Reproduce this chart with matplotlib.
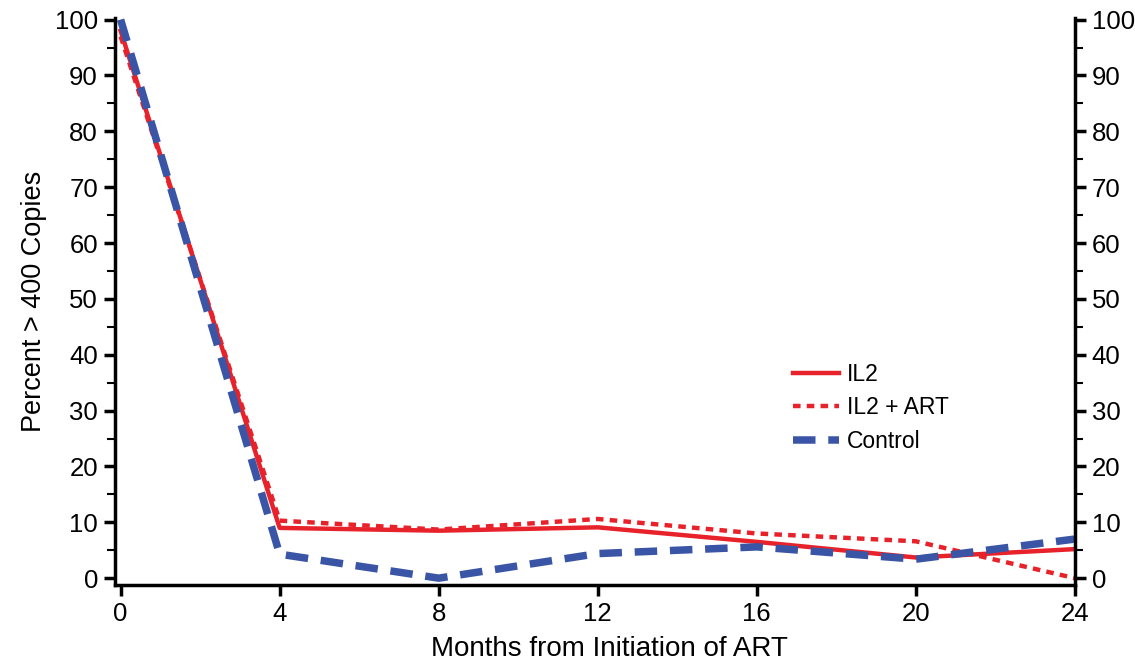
import matplotlib.pyplot as plt
from matplotlib.ticker import MultipleLocator

plt.rcParams['font.family'] = ['Liberation Sans', 'DejaVu Sans']

months = [0, 4, 8, 12, 16, 20, 24]
il2 = [98, 9.0, 8.5, 9.1, 6.5, 3.7, 5.2]
il2_art = [97, 10.3, 8.7, 10.6, 8.0, 6.6, 0]
control = [100, 4.3, 0, 4.4, 5.6, 3.4, 7.0]

red = '#e8222b'
blue = '#3a55a6'

fig = plt.figure(figsize=(11.35, 6.63), dpi=100)
ax = fig.add_axes([0.101, 0.117, 0.846, 0.856])

ax.plot(months, il2, color=red, lw=3.2, label='IL2')
ax.plot(months, il2_art, color=red, lw=3.2, dashes=(1.7, 1.4), label='IL2 + ART')
ax.plot(months, control, color=blue, lw=5.4, dashes=(3.0, 1.7), label='Control')

ax.set_xlim(-0.15, 24)
ax.set_ylim(-1.3, 100.3)
ax.set_xticks(months)
ax.set_yticks([0, 10, 20, 30, 40, 50, 60, 70, 80, 90, 100])
ax.yaxis.set_minor_locator(MultipleLocator(5))

ax.spines['top'].set_visible(False)
for side in ['left', 'right', 'bottom']:
    ax.spines[side].set_linewidth(2.5)

ax.tick_params(axis='both', which='major', length=8, width=2.5, labelsize=18.5,
               direction='out', pad=4)
ax.tick_params(axis='y', which='minor', length=6, width=1.5, direction='out')
ax.tick_params(axis='y', which='both', left=True, right=True, labelleft=True, labelright=True)

ax.set_xlabel('Months from Initiation of ART', fontsize=20, labelpad=7)
ax.xaxis.label.set_x(0.515)
ax.set_ylabel('Percent > 400 Copies', fontsize=19.5, labelpad=6)

ax.legend(loc='upper left', bbox_to_anchor=(0.685, 0.428), frameon=False, fontsize=16.5,
          handlelength=2.0, handletextpad=0.35, labelspacing=0.45)

fig.savefig('out.png', dpi=100)
